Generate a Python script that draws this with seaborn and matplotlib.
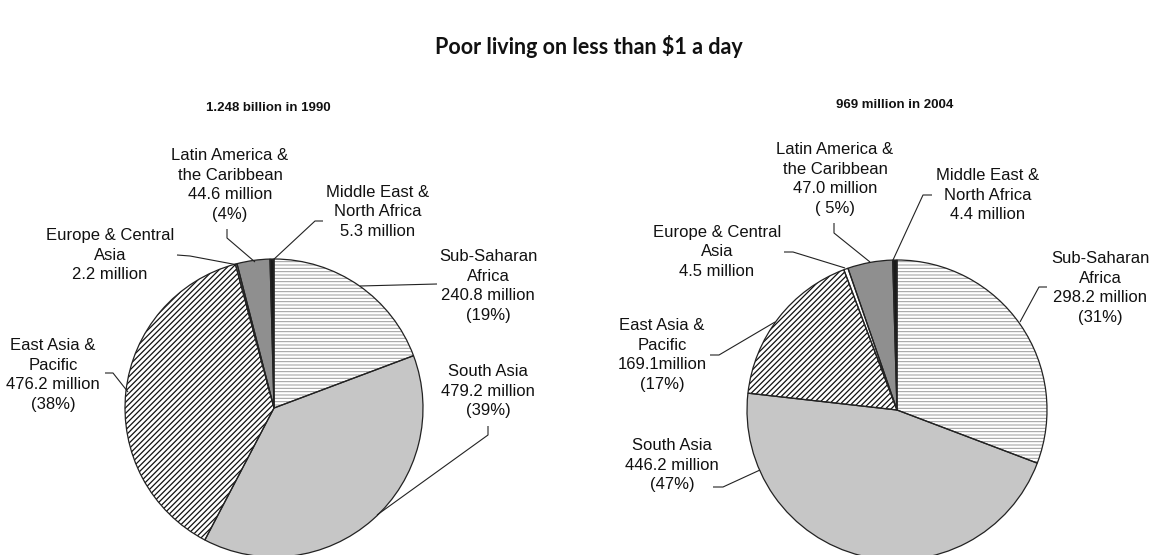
import matplotlib
matplotlib.use("Agg")
import matplotlib.pyplot as plt
import seaborn as sns
import pandas as pd

# ---------------- data ----------------
regions = ["Middle East & North Africa", "Latin America & the Caribbean",
           "Europe & Central Asia", "East Asia & Pacific", "South Asia",
           "Sub-Saharan Africa"]
values_1990 = [5.3, 44.6, 2.2, 476.2, 479.2, 240.8]
values_2004 = [4.4, 47.0, 4.5, 169.1, 446.2, 298.2]

labels_1990 = ["Middle East &\nNorth Africa\n5.3 million",
               "Latin America &\nthe Caribbean\n44.6 million\n(4%)",
               "Europe & Central\nAsia\n2.2 million",
               "East Asia &\nPacific\n476.2 million\n(38%)",
               "South Asia\n479.2 million\n(39%)",
               "Sub-Saharan\nAfrica\n240.8 million\n(19%)"]
labels_2004 = ["Middle East &\nNorth Africa\n4.4 million",
               "Latin America &\nthe Caribbean\n47.0 million\n( 5%)",
               "Europe & Central\nAsia\n4.5 million",
               "East Asia &\nPacific\n169.1million\n(17%)",
               "South Asia\n446.2 million\n(47%)",
               "Sub-Saharan\nAfrica\n298.2 million\n(31%)"]

title = "Poor living on less than $1 a day"
subtitle_1990 = "1.248 billion in 1990"
subtitle_2004 = "969 million in 2004"

df = pd.DataFrame({"region": regions, "1990": values_1990, "2004": values_2004})

# ---------------- style ----------------
sns.set_theme(style="white")
plt.rcParams["font.family"] = ["Liberation Sans", "DejaVu Sans"]
plt.rcParams["hatch.linewidth"] = 0.9

face = ["#1a1a1a", "#8f8f8f", "white", "white", "#c6c6c6", "white"]
hatch = [None, None, None, "//////", None, "-----"]
hcol = ["#1a1a1a", "#8f8f8f", "white", "#111111", "#c6c6c6", "#9a9a9a"]
hlw = [0.9, 0.9, 0.9, 0.9, 0.9, 0.7]

W, H = 1156, 555
fig = plt.figure(figsize=(W / 100, H / 100), dpi=100)
ax = fig.add_axes([0, 0, 1, 1])


def Y(y):
    return H - y


def draw_pie(vals, cx, cy, r):
    wedges, _ = ax.pie(vals, startangle=90, counterclock=True,
                       center=(cx, Y(cy)), radius=r, colors=face,
                       wedgeprops=dict(linewidth=0))
    for w, h, c, lw in zip(wedges, hatch, hcol, hlw):
        if h:
            w.set_hatch(h)
            w.set_edgecolor(c)
            w.set_linewidth(0)
            if hasattr(w, "set_hatch_linewidth"):
                w.set_hatch_linewidth(lw)
    ax.pie(vals, startangle=90, counterclock=True, center=(cx, Y(cy)),
           radius=r, colors=["none"] * len(vals),
           wedgeprops=dict(linewidth=0.9, edgecolor="#222222", fill=False))


draw_pie(df["1990"], 274, 408, 149)
draw_pie(df["2004"], 897, 410, 150)

# label layout (pixel positions of label centres and leader lines)
pos_1990 = [(378, 212), (230, 185), (110, 255), (53, 375), (488, 391), (488, 286)]
lead_1990 = [[(323, 221), (315, 221), (272, 261)],
             [(227, 229), (227, 238), (255, 262)],
             [(177, 255), (190, 256), (238, 265)],
             [(105, 373), (113, 373), (128, 392)],
             [(488, 426), (488, 435), (377, 515)],
             [(437, 284), (360, 286)]]
pos_2004 = [(988, 195), (835, 179), (717, 252), (662, 355), (672, 465), (1100, 288)]
lead_2004 = [[(932, 195), (923, 195), (893, 260)],
             [(834, 223), (834, 233), (870, 262)],
             [(784, 252), (793, 252), (845, 268)],
             [(710, 355), (719, 355), (775, 322)],
             [(713, 487), (723, 487), (760, 470)],
             [(1047, 287), (1039, 287), (1020, 322)]]

for labs, pos, leads in ((labels_1990, pos_1990, lead_1990),
                         (labels_2004, pos_2004, lead_2004)):
    for t, (x, y), ln in zip(labs, pos, leads):
        ax.text(x, Y(y), t, ha="center", va="center", multialignment="center",
                fontsize=12, color="#111111", linespacing=1.4)
        ax.plot([p[0] for p in ln], [Y(p[1]) for p in ln], color="#222222",
                lw=0.8, solid_capstyle="butt")

ax.text(589, Y(47), title, ha="center", va="center", fontsize=15.5,
        fontweight="bold", family=["Lato", "DejaVu Sans"], color="#111111")
ax.text(268, Y(108), subtitle_1990, ha="center", va="center", fontsize=9.5,
        fontweight="bold", family=["Liberation Sans Narrow", "Liberation Sans"],
        color="#111111")
ax.text(895, Y(105), subtitle_2004, ha="center", va="center", fontsize=9.5,
        fontweight="bold", family=["Liberation Sans Narrow", "Liberation Sans"],
        color="#111111")

ax.set_xlim(0, W)
ax.set_ylim(0, H)
ax.set_aspect("auto")
ax.axis("off")
fig.savefig("out.png", dpi=100, facecolor="white")
